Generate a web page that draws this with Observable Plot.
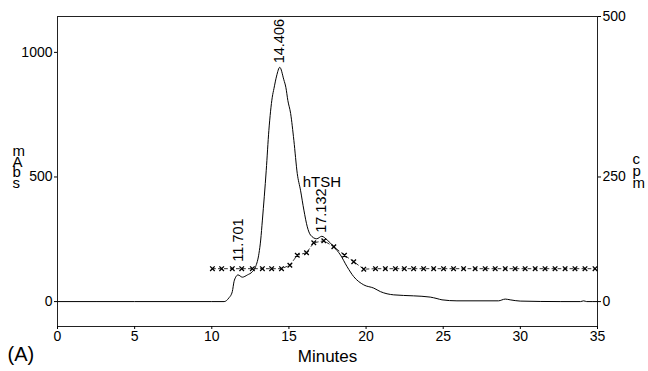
<!DOCTYPE html>
<html>
<head>
<meta charset="utf-8">
<script src="https://cdn.jsdelivr.net/npm/d3@7"></script>
<script src="https://cdn.jsdelivr.net/npm/@observablehq/plot@0.6"></script>
<style>
  body { margin: 0; background: #fff; }
  #chart svg { display: block; }
</style>
</head>
<body>
<div id="chart"></div>
<script>
// UV absorbance trace of the gel filtration run (mAbs vs. minutes)
const traceMinutes = [0, 5, 10, 10.8, 11.1, 11.33, 11.44, 11.55, 11.7, 11.98, 12.31, 12.63, 12.84, 13.06, 13.17, 13.28, 13.53, 13.7, 13.92, 14.03, 14.2, 14.406, 14.67, 14.8, 14.93, 15.11, 15.32, 15.54, 15.75, 15.97, 16.19, 16.4, 16.8, 17.132, 17.48, 17.91, 18.34, 18.77, 19.2, 19.85, 20.5, 20.93, 21.79, 23.08, 24.16, 24.6, 24.92, 25.89, 28.58, 29.02, 29.34, 29.99, 32.58, 33.9, 34.1, 34.3, 35];
const traceMAbs = [0, 0, 0, 0, 14, 40, 80, 98, 107, 98, 107, 120, 140, 194, 247, 327, 527, 687, 820, 855, 905, 940, 890, 860, 807, 755, 647, 514, 447, 367, 300, 267, 252, 262, 247, 220, 187, 140, 100, 67, 54, 40, 27, 23, 18, 12, 7, 3, 3, 10, 7, 2, 0, 0, 3, 0, 0];

// Radioactivity of the collected fractions (cpm)
const fractionMinutes = [10.04, 10.64, 11.33, 11.94, 12.63, 13.28, 13.88, 14.52, 15.06, 15.54, 16.14, 16.61, 17.26, 17.91, 18.6, 19.2, 19.85, 20.61, 21.25, 21.9, 22.48, 23.08, 23.73, 24.38, 25.02, 25.67, 26.32, 27.07, 27.72, 28.37, 29.02, 29.66, 30.31, 30.96, 31.6, 32.25, 32.9, 33.54, 34.19, 34.84];
const fractionCpm = [66, 66, 66, 66, 66, 66, 66, 66, 73, 93, 98, 118, 122, 110, 93, 80, 65, 66, 66, 66, 66, 66, 66, 66, 66, 66, 66, 66, 66, 66, 66, 66, 66, 66, 66, 66, 66, 66, 66, 66];

// Integrated peaks (retention time, height)
const peakMinutes = [11.701, 14.406, 17.132];
const peakMAbs = [107, 940, 260];
const peakName = "hTSH";

// Axes
const minuteTicks = [0, 5, 10, 15, 20, 25, 30, 35];
const mAbsTicks = [0, 500, 1000];
const cpmTicks = [0, 250, 500];
const mAbsDomain = [-100, 1144];
const cpmPerMAbs = 0.5; // 250 cpm sits at the 500 mAbs level

const trace = traceMinutes.map((t, i) => ({t, v: traceMAbs[i]}));
const fractions = fractionMinutes.map((t, i) => ({t, cpm: fractionCpm[i], v: fractionCpm[i] / cpmPerMAbs}));
const cpmAt = d3.scaleLinear(fractionMinutes, fractionCpm).clamp(true);
const peaks = peakMinutes.map((t, i) => ({
  t,
  v: peakMAbs[i],
  // keep the retention-time label clear of the radioactivity trace
  labelY: Math.max(peakMAbs[i], cpmAt(t) / cpmPerMAbs + 12)
}));
const hTSH = peaks[peaks.length - 1];

// right axis: cpm labels, the full-scale value pinned to the top of the frame
const cpmTickPos = cpmTicks.map((c, i) => i === cpmTicks.length - 1 ? mAbsDomain[1] : c / cpmPerMAbs);
const cpmLabelAt = new Map(cpmTickPos.map((p, i) => [p, String(cpmTicks[i])]));

const chart = Plot.plot({
  width: 648,
  height: 371,
  marginLeft: 57,
  marginRight: 51,
  marginTop: 16,
  marginBottom: 45,
  style: {fontFamily: "'Liberation Sans', Arial, Helvetica, sans-serif", fontSize: "14px", color: "#000", background: "#fff"},
  x: {domain: [0, 35]},
  y: {domain: mAbsDomain},
  marks: [
    Plot.frame({stroke: "#222"}),
    Plot.axisX({ticks: minuteTicks, tickFormat: d => String(d), tickSize: 3, tickPadding: 2, label: null, fontSize: 14}),
    Plot.axisY({ticks: mAbsTicks, tickFormat: d => String(d), tickSize: 3, tickPadding: 2, label: null, fontSize: 14}),
    Plot.axisY({anchor: "right", ticks: cpmTickPos, tickFormat: d => cpmLabelAt.get(d), tickSize: 3, tickPadding: 2, label: null, fontSize: 14}),
    Plot.line(fractions, {x: "t", y: "v", stroke: "#333", strokeWidth: 1, strokeDasharray: "3,3"}),
    Plot.dot(fractions, {x: "t", y: "v", symbol: "times", r: 2.2, stroke: "#000", strokeWidth: 1.3}),
    Plot.line(trace, {x: "t", y: "v", curve: "monotone-x", stroke: "#000", strokeWidth: 1}),
    Plot.text(peaks, {x: "t", y: "labelY", text: d => d.t.toFixed(3), rotate: -90, textAnchor: "start", lineAnchor: "middle", dy: -4, fontSize: 14.5}),
    Plot.text([hTSH], {x: "t", y: "v", text: () => peakName, dy: -55, lineAnchor: "middle", fontSize: 15}),
    Plot.text(["Minutes"], {text: d => d, frameAnchor: "bottom", dy: 30, lineAnchor: "middle", fontSize: 17}),
    Plot.text(["m\nA\nb\ns"], {text: d => d, frameAnchor: "left", dx: -45, dy: 16, lineAnchor: "bottom", lineHeight: 0.7, fontSize: 15}),
    Plot.text(["c\np\nm"], {text: d => d, frameAnchor: "right", dx: 35, dy: 16, textAnchor: "start", lineAnchor: "bottom", lineHeight: 0.78, fontSize: 15}),
    Plot.text(["(A)"], {text: d => d, frameAnchor: "bottom-left", dx: -50, dy: 34, textAnchor: "start", lineAnchor: "bottom", fontSize: 20})
  ]
});
document.getElementById("chart").append(chart);
</script>
</body>
</html>
